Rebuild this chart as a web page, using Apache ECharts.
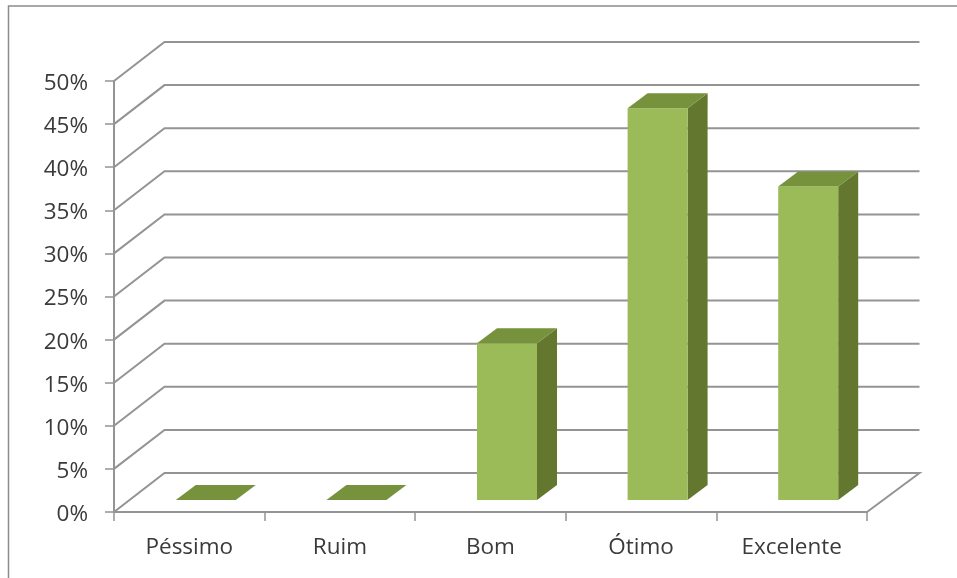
<!DOCTYPE html>
<html>
<head>
<meta charset="utf-8">
<style>
html, body { margin: 0; padding: 0; background: #fff; overflow: hidden; }
#chart { width: 957px; height: 578px; }
</style>
<script src="https://cdn.jsdelivr.net/npm/echarts@6/dist/echarts.min.js"></script>
</head>
<body>
<div id="chart"></div>
<script>
// Survey ratings, percentage of answers in each class
const categories = ['Péssimo', 'Ruim', 'Bom', 'Ótimo', 'Excelente'];
const shares = [0, 0, 18.18, 45.45, 36.36];
const yTicks = [0, 5, 10, 15, 20, 25, 30, 35, 40, 45, 50];

// Pseudo-3D projection of the plot box and of the columns, in pixels
const wallDepth = { x: 50.5, y: -39 };
const columnDepth = { x: 20, y: -15 };
const columnInset = { x: 16.5, y: -12 };
const columnWidth = 60;

const faceColor = '#9bbb59';
const topColor = '#76923c';
const sideColor = '#63772f';
const wallLine = '#949494';
const textColor = '#3a3a3a';

function renderWallLine(params, api) {
  const value = api.value(0);
  const catW = api.size([1, 0])[0];
  const left = api.coord([0, value])[0] - catW / 2;
  const right = left + catW * categories.length;
  const y = api.coord([0, value])[1];
  const points = [
    [left, y],
    [left + wallDepth.x, y + wallDepth.y],
    [right + wallDepth.x + 2, y + wallDepth.y]
  ];
  if (value === 0) points.push([right, y]);
  return {
    type: 'polyline',
    shape: { points: points },
    style: { fill: null, stroke: wallLine, lineWidth: 2 }
  };
}

function renderColumn(params, api) {
  const base = api.coord([api.value(0), 0]);
  const head = api.coord([api.value(0), api.value(1)]);
  const x0 = base[0] + columnInset.x - columnWidth / 2;
  const x1 = x0 + columnWidth;
  const yB = base[1] + columnInset.y;
  const yT = head[1] + columnInset.y;
  const dx = columnDepth.x;
  const dy = columnDepth.y;
  return {
    type: 'group',
    children: [
      {
        type: 'polygon',
        shape: { points: [[x1, yB], [x1 + dx, yB + dy], [x1 + dx, yT + dy], [x1, yT]] },
        style: { fill: sideColor }
      },
      {
        type: 'rect',
        shape: { x: x0, y: yT, width: columnWidth, height: yB - yT },
        style: { fill: faceColor }
      },
      {
        type: 'polygon',
        shape: { points: [[x0, yT], [x0 + dx, yT + dy], [x1 + dx, yT + dy], [x1, yT]] },
        style: { fill: topColor }
      }
    ]
  };
}

const chart = echarts.init(document.getElementById('chart'), null, { renderer: 'canvas' });
const font = '"Open Sans", "Noto Sans", sans-serif';

chart.setOption({
  animation: false,
  backgroundColor: '#ffffff',
  // Chart frame: only its top and left edges fall inside the canvas
  graphic: [{
    type: 'rect',
    silent: true,
    z: -1,
    shape: { x: 8.5, y: 6, width: 1000, height: 620 },
    style: { fill: '#fff', stroke: '#8c8c8c', lineWidth: 1.5 }
  }],
  grid: { left: 114, right: 90, top: 81, bottom: 66 },
  xAxis: {
    type: 'category',
    data: categories,
    boundaryGap: true,
    axisLine: { lineStyle: { color: wallLine, width: 2 } },
    axisTick: { show: true, alignWithLabel: false, length: 9, lineStyle: { color: wallLine, width: 1.5 } },
    axisLabel: { color: textColor, fontSize: 22.5, fontFamily: font, margin: 24 },
    splitLine: { show: false }
  },
  yAxis: {
    type: 'value',
    min: 0,
    max: 50,
    interval: 5,
    axisLine: { show: true, lineStyle: { color: wallLine, width: 2 } },
    axisTick: { show: true, length: 9, lineStyle: { color: wallLine, width: 1.5 } },
    axisLabel: {
      margin: 26,
      formatter: '{pct|{value}%}',
      rich: {
        pct: { color: textColor, fontSize: 22.5, fontFamily: font, padding: [5, 0, 0, 0] }
      }
    },
    splitLine: { show: false }
  },
  series: [
    {
      type: 'custom',
      name: 'Grade',
      coordinateSystem: 'cartesian2d',
      renderItem: renderWallLine,
      encode: { y: 0 },
      data: yTicks.map(v => [v]),
      silent: true,
      clip: false,
      z: 1
    },
    {
      type: 'custom',
      name: 'Respostas',
      coordinateSystem: 'cartesian2d',
      renderItem: renderColumn,
      encode: { x: 0, y: 1 },
      data: shares.map((v, i) => [i, v]),
      clip: false,
      z: 2
    }
  ]
});
</script>
</body>
</html>
